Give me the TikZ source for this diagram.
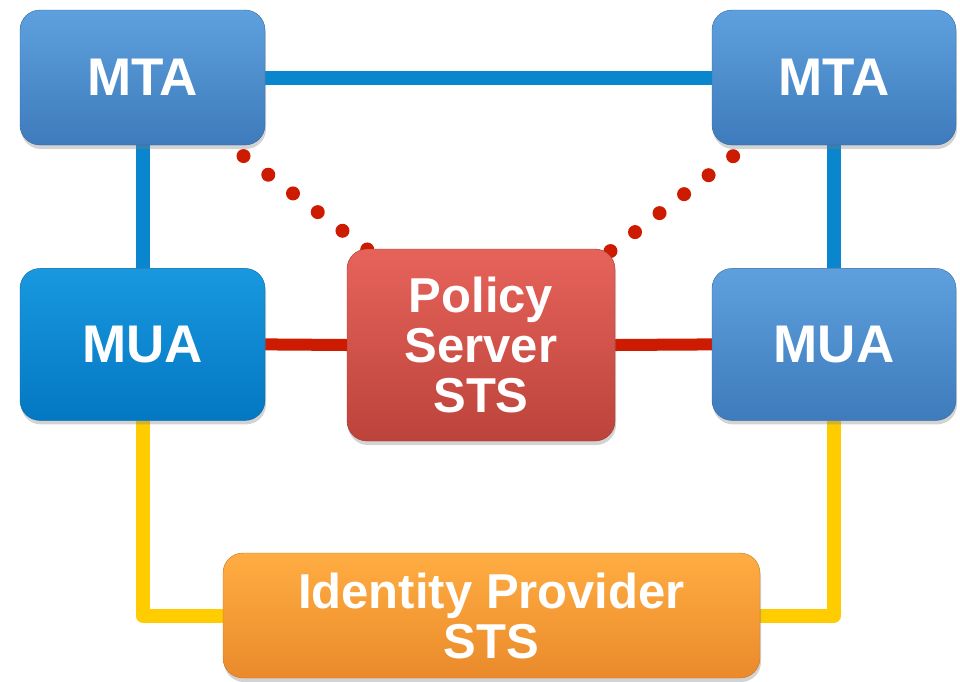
\documentclass[tikz,border=0pt]{standalone}
\usepackage{fontspec}
\setmainfont{Liberation Sans}
\usetikzlibrary{positioning,backgrounds,shadows}
\definecolor{mtatop}{HTML}{5EA0DD}
\definecolor{mtabot}{HTML}{3E7BBC}
\definecolor{muatop}{HTML}{1898DF}
\definecolor{muabot}{HTML}{0478C2}
\definecolor{poltop}{HTML}{E6635A}
\definecolor{polbot}{HTML}{BC433B}
\definecolor{idptop}{HTML}{FFAD42}
\definecolor{idpbot}{HTML}{EA8A2B}
\definecolor{bluec}{HTML}{0A86CE}
\definecolor{redc}{HTML}{CC1B00}
\definecolor{yellowc}{HTML}{FFCC00}
\tikzset{
  unit/.style={rounded corners=20pt, inner sep=0pt, align=center, text=white,
               font=\fontsize{49}{50}\selectfont\bfseries,
               drop shadow={opacity=.35, shadow xshift=1pt, shadow yshift=-4pt}},
  mtabox/.style={unit, top color=mtatop, bottom color=mtabot, draw=mtabot!85!black,
                 font=\fontsize{53}{50}\selectfont\bfseries,
                 minimum width=245pt, minimum height=135pt},
  muabox/.style={unit, font=\fontsize{53}{50}\selectfont\bfseries,
                 minimum width=245pt, minimum height=152pt},
  polbox/.style={unit, top color=poltop, bottom color=polbot, draw=polbot!85!black,
                 minimum width=268pt, minimum height=192pt},
  idpbox/.style={unit, top color=idptop, bottom color=idpbot, draw=idpbot!85!black,
                 minimum width=537pt, minimum height=125pt},
  bluelink/.style={draw=bluec, line width=14pt},
  redlink/.style={draw=redc, line width=12pt},
  dotlink/.style={draw=redc, line width=14pt, line cap=round,
                  dash pattern=on 0pt off 31pt, dash phase=13pt, shorten >=-8pt},
  yellowlink/.style={draw=yellowc, line width=14pt, line join=round},
}
\begin{document}
\begin{tikzpicture}[x=1pt, y=-1pt]
\useasboundingbox (0,0) rectangle (960,681);
\node[mtabox] (mtaL) at (142.5,77.5) {MTA};
\node[mtabox, minimum width=244pt] (mtaR) at (834,77.5) {MTA};
\node[muabox, top color=muatop, bottom color=muabot, draw=muabot!85!black,
      below=123pt of mtaL] (muaL) {MUA};
\node[muabox, top color=mtatop, bottom color=mtabot, draw=mtabot!85!black,
      minimum width=244pt, below=123pt of mtaR] (muaR) {MUA};
\node[polbox] (pol) at (481,345) {Policy\\Server\\STS};
\node[idpbox] (idp) at (491.5,615.5) {Identity Provider\\STS};

\begin{scope}[on background layer]
\draw[bluelink] (mtaL.east) -- (mtaR.west);
\draw[bluelink] (mtaL.south) -- (muaL.north);
\draw[bluelink] (mtaR.south) -- (muaR.north);
\draw[redlink] (muaL.east) -- (pol.west);
\draw[redlink] (pol.east) -- (muaR.west);
\draw[dotlink] (mtaL.-38) -- (pol.140);
\draw[dotlink] (mtaR.218) -- (pol.36.5);
\draw[yellowlink] (muaL.south) |- (idp.west);
\draw[yellowlink] (muaR.south) |- (idp.east);
\end{scope}
\end{tikzpicture}
\end{document}
